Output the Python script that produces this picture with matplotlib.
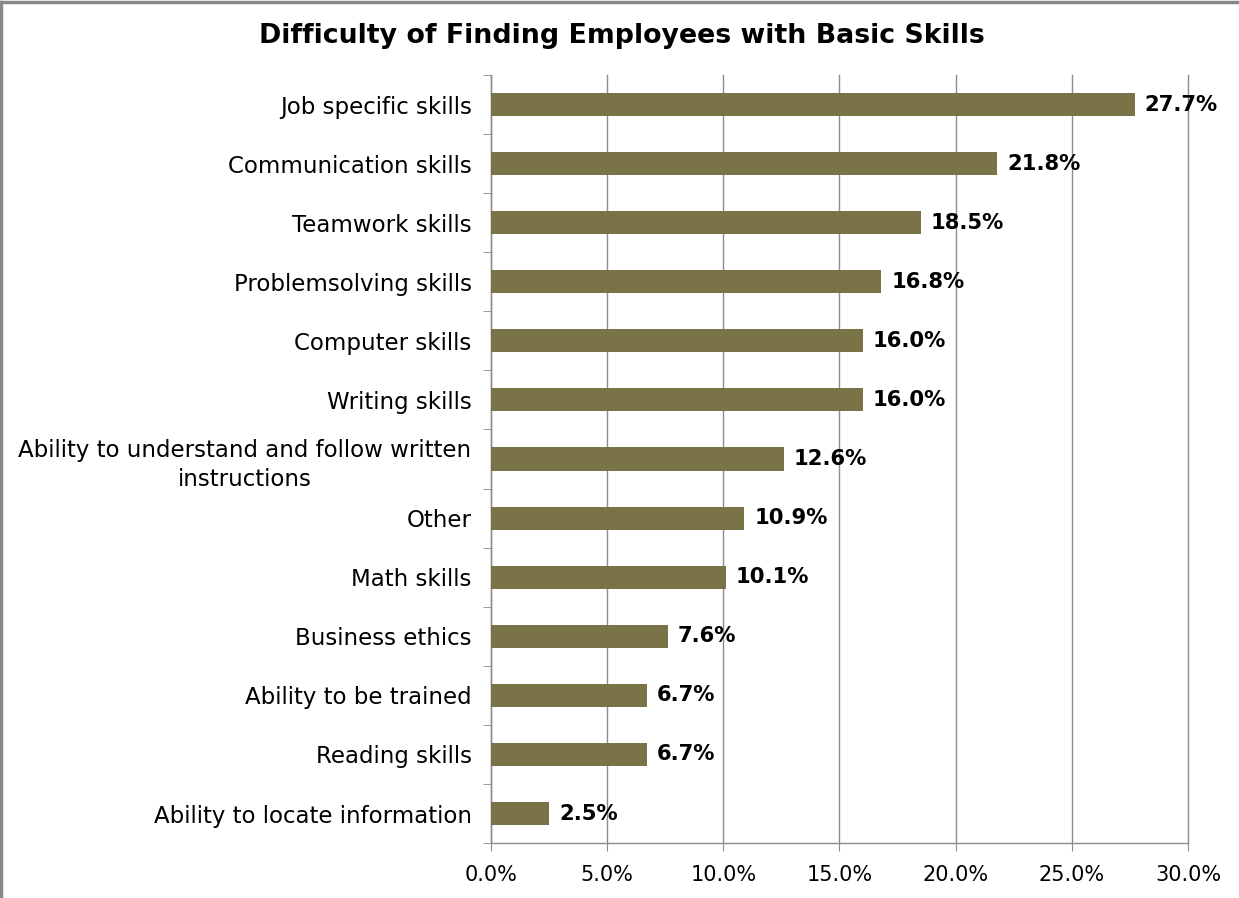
import matplotlib
matplotlib.use("Agg")
import matplotlib.pyplot as plt
from matplotlib.lines import Line2D

categories = [
    "Job specific skills",
    "Communication skills",
    "Teamwork skills",
    "Problemsolving skills",
    "Computer skills",
    "Writing skills",
    "Ability to understand and follow written\ninstructions",
    "Other",
    "Math skills",
    "Business ethics",
    "Ability to be trained",
    "Reading skills",
    "Ability to locate information",
]
values = [27.7, 21.8, 18.5, 16.8, 16.0, 16.0, 12.6, 10.9, 10.1, 7.6, 6.7, 6.7, 2.5]
xticks = [0, 5, 10, 15, 20, 25, 30]

bar_color = "#7B7348"
grid_color = "#8C8C8C"

plt.rcParams['font.family'] = ['DejaVu Sans']

fig = plt.figure(figsize=(12.39, 8.98), dpi=100)
ax = fig.add_axes([0.3963, 0.0612, 0.9588 - 0.3963, 0.9165 - 0.0612])

n = len(categories)
ypos = list(range(n))
ax.barh(ypos, values, height=0.39, color=bar_color, zorder=3)
ax.set_ylim(n - 0.5, -0.5)
ax.set_xlim(0, 30)

ax.set_xticks(xticks)
ax.set_xticklabels([f"{v:.1f}%" for v in xticks], fontsize=15)
ax.set_yticks(ypos)
ax.set_yticklabels(categories, fontsize=16.5, multialignment='center', linespacing=1.35)
ax.tick_params(axis='y', length=0, pad=14)
ax.tick_params(axis='x', length=6, color=grid_color, pad=10)
ax.set_yticks([i - 0.5 for i in range(n + 1)], minor=True)
ax.tick_params(axis='y', which='minor', length=6, color=grid_color)

ax.grid(axis='x', color=grid_color, linewidth=1, zorder=0)
for gl in ax.get_xgridlines():
    gl.set_clip_on(False)
for s in ['top', 'right']:
    ax.spines[s].set_visible(False)
for s in ['left', 'bottom']:
    ax.spines[s].set_color(grid_color)
    ax.spines[s].set_linewidth(1)

for y, v in zip(ypos, values):
    ax.text(v + 0.43, y, f"{v:.1f}%", va='center', ha='left', fontsize=15.2,
            fontweight='bold', zorder=4)

fig.text(0.502, 0.96, "Difficulty of Finding Employees with Basic Skills",
         ha='center', va='center', fontsize=19.3, fontweight='bold')

fig.add_artist(Line2D([0.001, 1.0], [0.998, 0.998], transform=fig.transFigure,
                      color='#888888', linewidth=2.5))
fig.add_artist(Line2D([0.001, 0.001], [0.0, 0.998], transform=fig.transFigure,
                      color='#888888', linewidth=2.5))

fig.savefig("out.png", dpi=100)
